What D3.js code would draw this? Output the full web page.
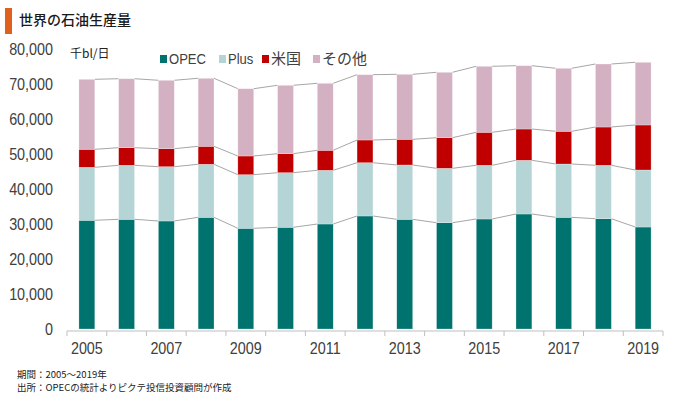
<!DOCTYPE html>
<html>
<head>
<meta charset="utf-8">
<script src="https://cdn.jsdelivr.net/npm/d3@7"></script>
<style>
  body { margin: 0; background: #fff; }
  svg { display: block; }
  text { font-family: "Liberation Sans", "Noto Sans CJK JP", sans-serif; }
  .jp { font-family: "Noto Sans CJK JP", sans-serif; }
</style>
</head>
<body>
<svg id="chart" width="680" height="396"></svg>
<script>
// data (thousand bl/day)
const years = ["2005","2006","2007","2008","2009","2010","2011","2012","2013","2014","2015","2016","2017","2018","2019"];
const opec  = [31060,31340,30860,31910,28770,29060,30000,32290,31340,30370,31430,32860,31910,31510,29140];
const plus  = [15140,15430,15510,15150,15320,15600,15340,15220,15520,15540,15340,15340,15230,15260,16290];
const usa   = [5140,5030,5140,5140,5340,5430,5720,6490,7340,8750,9430,8940,9350,10940,12860];
const other = [20000,19710,19550,19430,19230,19540,19140,18660,18570,18680,18860,18090,18000,18000,17910];
const seriesNames = ["OPEC","Plus","米国","その他"];
const yTicks = [0,10000,20000,30000,40000,50000,60000,70000,80000];
const xLabels = ["2005","2007","2009","2011","2013","2015","2017","2019"];

const colors = ["#00736f","#b4d4d6","#c00000","#d4b1c2"];
const narrow = 0.87; // squeeze latin text, the original uses a narrow face

const svg = d3.select("#chart");

// table for stacking
const table = years.map((y,i) => ({year:y, "OPEC":opec[i], "Plus":plus[i], "米国":usa[i], "その他":other[i]}));
const stacked = d3.stack().keys(seriesNames)(table);

const x = d3.scaleBand().domain(years).range([67,663]).paddingInner(0.6).paddingOuter(0.3);
const y = d3.scaleLinear().domain([0,80000]).range([329,49]);

// title
svg.append("rect").attr("x",5).attr("y",8).attr("width",7).attr("height",26).attr("fill","#e0601e");
svg.append("text").attr("class","jp").attr("x",19).attr("y",25)
  .attr("font-size",14).attr("font-weight",500).attr("fill","#1a1a1a").text("世界の石油生産量");

// y axis labels
const yAxis = d3.axisLeft(y).tickValues(yTicks).tickFormat(d3.format(",")).tickSize(0).tickPadding(0);
const gy = svg.append("g").attr("transform","translate(53,0)").call(yAxis);
gy.select(".domain").remove();
gy.selectAll("text").attr("font-size",16.5).attr("fill","#404040")
  .attr("transform","scale(" + narrow + ",1)")
  .style("font-family","'Liberation Sans',sans-serif");

svg.append("text").attr("class","jp").attr("x",70).attr("y",58)
  .attr("font-size",12).attr("fill","#222").text("千bl/日");

// series lines between bars
const line = d3.line().x(d => d[0]).y(d => d[1]);
stacked.forEach(s => {
  for (let i = 0; i < s.length - 1; i++) {
    const a = s[i], b = s[i+1];
    svg.append("path")
      .attr("d", line([[x(years[i]) + x.bandwidth(), y(a[1])], [x(years[i+1]), y(b[1])]]))
      .attr("stroke","#a6a6a6").attr("stroke-width",1).attr("fill","none");
  }
});

// bars
svg.selectAll("g.layer").data(stacked).enter().append("g")
  .attr("class","layer")
  .attr("fill",(d,i) => colors[i])
  .selectAll("rect").data(d => d).enter().append("rect")
  .attr("x",(d,i) => x(years[i]))
  .attr("y",d => y(d[1]))
  .attr("width",x.bandwidth())
  .attr("height",d => y(d[0]) - y(d[1]))
  .attr("stroke","#ffffff").attr("stroke-opacity",0.5).attr("stroke-width",0.5);

// x axis
const gx = svg.append("g").attr("transform","translate(0,331)");
gx.append("line").attr("x1",67).attr("x2",663).attr("y1",0).attr("y2",0)
  .attr("stroke","#bfbfbf").attr("stroke-width",1);
const step = x.step();
d3.range(years.length + 1).forEach(i => {
  const xx = 67 + i * step;
  gx.append("line").attr("x1",xx).attr("x2",xx).attr("y1",0).attr("y2",5)
    .attr("stroke","#bfbfbf").attr("stroke-width",1);
});
gx.selectAll("text.xl").data(xLabels).enter().append("text")
  .attr("class","xl")
  .attr("transform",d => "translate(" + (x(d) + x.bandwidth()/2) + ",23) scale(" + narrow + ",1)")
  .attr("text-anchor","middle")
  .attr("font-size",16.5).attr("fill","#404040")
  .text(d => d);

// legend
const legendX = [160, 219, 262, 313];
const lg = svg.append("g");
seriesNames.forEach((n,i) => {
  lg.append("rect").attr("x",legendX[i]).attr("y",55).attr("width",7).attr("height",8).attr("fill",colors[i]);
  const t = lg.append("text").attr("class", i >= 2 ? "jp" : null)
    .attr("font-size",15).attr("fill","#404040").text(n);
  if (i < 2) t.attr("transform","translate(" + (legendX[i] + 9) + ",64) scale(" + narrow + ",1)");
  else t.attr("x",legendX[i] + 9).attr("y",64);
});

// footnotes
svg.append("text").attr("class","jp").attr("x",17).attr("y",378)
  .attr("font-size",9.5).attr("fill","#222").text("期間：2005～2019年");
svg.append("text").attr("class","jp").attr("x",17).attr("y",391)
  .attr("font-size",9.5).attr("fill","#222").text("出所：OPECの統計よりピクテ投信投資顧問が作成");
</script>
</body>
</html>
